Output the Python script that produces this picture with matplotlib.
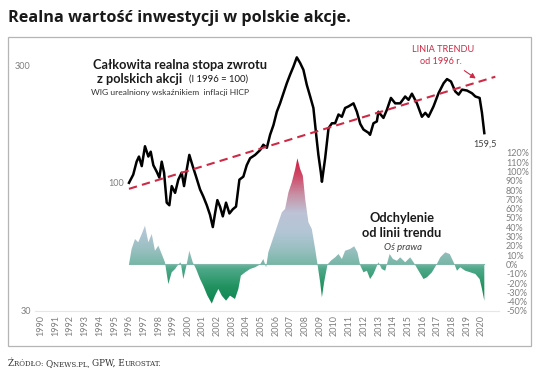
import matplotlib
matplotlib.use("Agg")
import matplotlib.pyplot as plt
import numpy as np
from matplotlib.colors import LinearSegmentedColormap
from matplotlib.patches import Rectangle, FancyArrowPatch
from matplotlib.ticker import NullLocator

wig_years = [1996.00, 1996.29, 1996.52, 1996.68, 1996.87, 1997.09, 1997.32, 1997.48, 1997.66, 1997.89,
             1998.07, 1998.23, 1998.39, 1998.57, 1998.75, 1998.91, 1999.14, 1999.36, 1999.59, 1999.75,
             1999.93, 2000.11, 2000.34, 2000.57, 2000.84, 2001.06, 2001.30, 2001.52, 2001.71, 2001.86,
             2002.02, 2002.20, 2002.39, 2002.61, 2002.84, 2003.07, 2003.29, 2003.52, 2003.79, 2004.02,
             2004.25, 2004.59, 2004.93, 2005.15, 2005.39, 2005.61, 2005.84, 2006.07, 2006.29, 2006.52,
             2006.75, 2006.97, 2007.20, 2007.43, 2007.66, 2007.88, 2008.11, 2008.34, 2008.56, 2008.75,
             2008.90, 2009.07, 2009.14, 2009.36, 2009.59, 2009.82, 2010.04, 2010.27, 2010.50, 2010.72,
             2010.95, 2011.29, 2011.52, 2011.75, 2011.97, 2012.31, 2012.42, 2012.65, 2012.88, 2012.99,
             2013.33, 2013.57, 2013.84, 2014.13, 2014.47, 2014.81, 2015.04, 2015.27, 2015.61, 2015.95,
             2016.18, 2016.40, 2016.74, 2017.08, 2017.43, 2017.66, 2017.93, 2018.22, 2018.45, 2018.68,
             2019.02, 2019.36, 2019.59, 2019.88, 2020.04, 2020.20]
wig_values = [100, 108, 122, 128, 117, 141, 128, 134, 118, 111,
              105, 122, 110, 83, 81, 97, 91, 103, 110, 97,
              113, 130, 117, 106, 94, 88, 81, 74, 66, 75,
              85, 80, 73, 83, 75, 78, 80, 103, 106, 118,
              126, 130, 136, 143, 139, 157, 172, 195, 211, 232,
              255, 276, 298, 325, 308, 289, 251, 225, 202, 157,
              130, 110, 101, 126, 167, 175, 175, 190, 186, 202,
              205, 211, 195, 174, 165, 160, 157, 175, 178, 195,
              184, 199, 222, 211, 211, 225, 218, 231, 211, 186,
              193, 186, 205, 232, 255, 265, 259, 236, 229, 240,
              238, 232, 225, 222, 193, 159.5]

# deviation from the trend line, % (right axis)
dev_years = [1996.00, 1996.18, 1996.41, 1996.63, 1996.87, 1997.09, 1997.32, 1997.55, 1997.77, 1998.00,
             1998.23, 1998.45, 1998.68, 1998.91, 1999.14, 1999.36, 1999.52, 1999.70, 1999.93, 2000.11,
             2000.34, 2000.57, 2000.84, 2001.06, 2001.34, 2001.64, 2001.86, 2002.09, 2002.32, 2002.61,
             2002.88, 2003.22, 2003.45, 2003.62, 2003.91, 2004.25, 2004.59, 2004.93, 2005.15, 2005.34,
             2005.49, 2005.72, 2005.95, 2006.18, 2006.41, 2006.63, 2006.86, 2007.09, 2007.32, 2007.47,
             2007.66, 2007.84, 2008.00, 2008.22, 2008.45, 2008.68, 2008.84, 2009.02, 2009.14, 2009.29,
             2009.52, 2009.75, 2010.04, 2010.27, 2010.50, 2010.72, 2011.06, 2011.34, 2011.56, 2011.75,
             2011.97, 2012.20, 2012.42, 2012.65, 2012.99, 2013.22, 2013.45, 2013.75, 2013.98, 2014.25,
             2014.47, 2014.81, 2015.15, 2015.38, 2015.72, 2016.06, 2016.29, 2016.63, 2016.97, 2017.20,
             2017.54, 2017.84, 2018.11, 2018.34, 2018.56, 2018.90, 2019.24, 2019.59, 2019.88, 2020.04,
             2020.20]
dev_values = [0, 16.7, 27.4, 23.9, 32.8, 41.7, 23.9, 32.8, 14.8, 20.2,
              11.3, 2.4, -21, -8.4, -4.8, 0, 2.4, -15.6, 0, 14.8,
              2.4, -4.8, -15.6, -22.8, -33.5, -42, -33.5, -26.3, -33.5, -38.9,
              -33.5, -37.1, -26.3, -12, -8.4, -4.8, -3, 0, 5.9, -3,
              13.1, 23.9, 34.6, 45.4, 56.1, 59.7, 77.6, 88.4, 102.7, 114.2,
              102.7, 95.5, 70.4, 45.4, 38.2, 16.7, 0, -19.1, -35.3, -19.1,
              0, 4.1, 7.7, 11.3, 5.9, 14.8, 16.7, 19.6, 13.1, -1,
              -8.4, -6.7, -15.6, -10.2, 2.4, -4.8, -6.7, 11.3, 5.9, 4.1,
              7.7, 2.4, 7.7, 2.4, -6.7, -15.6, -13.8, -8.4, 0.5, 7.7,
              13.1, 11.3, 2.4, -6.7, -3, -6.7, -8.4, -10.2, -15.6, -26.3,
              -38.9]

# trend line since 1996 (two ends)
trend_years = [1996.0, 2020.95]
trend_values = [94.5, 271.0]

year_ticks = list(range(1990, 2021))
left_ticks = [30, 300]
right_ticks = list(range(-50, 121, 10))

W, H = 536, 371
FONT = "Lato"
GREY = "#7f7f7f"
RED = "#cc2a45"


def fx(px):
    return px / W


def fy(py):
    return 1 - py / H


def small_caps(fig, x, y, text, big, small, **kw):
    # fake small caps: lowercase letters drawn as smaller capitals
    r = fig.canvas.get_renderer()
    runs = []
    for ch in text:
        if ch.isalpha():
            up = ch.isupper()
        else:
            up = runs[-1][1] if runs else True
        if runs and runs[-1][1] == up:
            runs[-1][0] += ch
        else:
            runs.append([ch, up])
    for s, up in runs:
        t = fig.text(x, y, s.upper(), fontsize=big if up else small, va="baseline", **kw)
        bb = t.get_window_extent(r)
        x += bb.width / W


fig = plt.figure(figsize=(W / 100, H / 100), dpi=100)
fig.patch.set_facecolor("white")

ax = fig.add_axes([fx(35), fy(311), (499 - 35) / W, (311 - 45) / H])
ax2 = ax.twinx()

# left axis: black line + trend
ax.plot(wig_years, wig_values, color="black", lw=1.8, solid_joinstyle="round", zorder=3)
ax.plot(trend_years, trend_values, color=RED, lw=1.5, ls=(0, (4, 2.5)), zorder=4)
ax.set_yscale("log")
ax.set_ylim(30, 365)
ax.set_yticks(left_ticks)
ax.set_yticklabels([str(v) for v in left_ticks])
ax.yaxis.set_minor_locator(NullLocator())
ax.set_xticks(year_ticks)
ax.set_xticklabels([str(y) for y in year_ticks], rotation=90)
ax.tick_params(axis="both", length=0, labelsize=6.5, labelcolor=GREY)
ax.tick_params(axis="x", pad=3)
ax.tick_params(axis="y", pad=3)
for t in ax.get_xticklabels() + ax.get_yticklabels():
    t.set_fontfamily(FONT)

# right axis: deviation area with gradient
vmin, vmax = -45, 118
stops = [(-45, "#0b8552"), (-25, "#21925f"), (-5, "#4fa98a"), (0, "#78b7a6"),
         (15, "#98bfc0"), (35, "#b3c6d6"), (55, "#bcc3d6"), (75, "#c890a5"),
         (95, "#cf4a68"), (118, "#d2103a")]
cmap = LinearSegmentedColormap.from_list(
    "dev", [((v - vmin) / (vmax - vmin), c) for v, c in stops])
grad = np.linspace(vmin, vmax, 300).reshape(-1, 1)
img = ax2.imshow(grad, extent=[1996, 2020.3, vmin, vmax], origin="lower",
                 aspect="auto", cmap=cmap, vmin=vmin, vmax=vmax, zorder=1,
                 interpolation="bilinear")
poly = ax2.fill_between(dev_years, dev_values, 0, facecolor="none", edgecolor="none")
img.set_clip_path(poly.get_paths()[0], transform=ax2.transData)
ax2.plot([dev_years[0], dev_years[-1]], [0, 0], color="#7fb8a8", lw=0.8, zorder=2)

ax2.set_ylim(-50, 236)
ax2.set_yticks(right_ticks)
ax2.set_yticklabels([f"{v}%" for v in right_ticks])
ax2.tick_params(axis="y", length=0, pad=5, labelsize=6.5, labelcolor=GREY)
for t in ax2.get_yticklabels():
    t.set_fontfamily(FONT)

ax.set_xlim(1989.6, 2021.2)
for a in (ax, ax2):
    for s in a.spines.values():
        s.set_visible(False)
ax.spines["bottom"].set_visible(True)
ax.spines["bottom"].set_color("#e6e6e6")
ax.spines["bottom"].set_linewidth(0.8)

# frame around the chart
fig.patches.append(Rectangle((fx(8), fy(346)), (531 - 8) / W, (346 - 37) / H,
                             transform=fig.transFigure, fill=False,
                             edgecolor="#b5b5b5", lw=0.9))

# title and source
fig.text(fx(8), fy(18), "Realna wartość inwestycji w polskie akcje.", fontsize=11.7,
         fontweight="bold", family="Open Sans", color="#1a1a1a", va="center")
small_caps(fig, fx(8), fy(366), "Źródło: Qnews.pl, GPW, Eurostat.", 6.4, 5.0,
           family="DejaVu Serif", color="#333333")

# annotations
fig.text(fx(180), fy(65), "Całkowita realna stopa zwrotu", fontsize=9.2, fontweight="bold",
         family=FONT, color="#1a1a1a", ha="center", va="center")
fig.text(fx(182), fy(79), "z polskich akcji", fontsize=9.2, fontweight="bold",
         family=FONT, color="#1a1a1a", ha="right", va="center")
fig.text(fx(189), fy(79), "(I 1996 = 100)", fontsize=6.8,
         family=FONT, color="#1a1a1a", ha="left", va="center")
fig.text(fx(170), fy(93), "WIG urealniony wskaźnikiem  inflacji HICP", fontsize=6.1,
         family=FONT, color="#333333", ha="center", va="center")
fig.text(fx(116), fy(183), "100", fontsize=6.5, family=FONT, color=GREY, ha="center", va="center")
fig.text(fx(443), fy(50), "LINIA TRENDU", fontsize=6.6, family=FONT, color=RED, ha="center", va="center")
fig.text(fx(441), fy(62), "od 1996 r.", fontsize=6.6, family=FONT, color=RED, ha="center", va="center")
fig.patches.append(FancyArrowPatch(
    (fx(462), fy(69)), (fx(478), fy(80)), transform=fig.transFigure,
    arrowstyle="-|>,head_length=3,head_width=1.6", color=RED, lw=0.8))
fig.text(fx(485), fy(144), "159,5", fontsize=6.6, family=FONT, color="#404040", ha="center", va="center")
fig.text(fx(402), fy(218), "Odchylenie", fontsize=9.2, fontweight="bold",
         family=FONT, color="#1a1a1a", ha="center", va="center")
fig.text(fx(402), fy(233), "od linii trendu", fontsize=9.2, fontweight="bold",
         family=FONT, color="#1a1a1a", ha="center", va="center")
fig.text(fx(403), fy(247), "Oś prawa", fontsize=6.8, style="italic",
         family=FONT, color="#404040", ha="center", va="center")

fig.savefig("out.png", dpi=100)
